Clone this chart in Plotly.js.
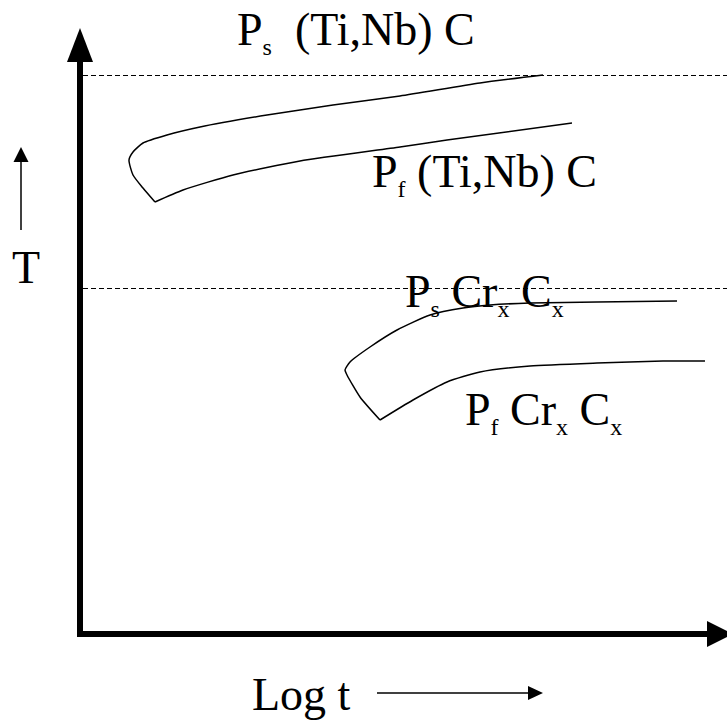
<!DOCTYPE html>
<html>
<head>
<meta charset="utf-8">
<script src="https://cdn.plot.ly/plotly-3.0.1.min.js"></script>
<style>
  html, body { margin: 0; padding: 0; background: #ffffff; }
  #chart { width: 727px; height: 724px; }
</style>
</head>
<body>
<div id="chart"></div>
<script>
// Schematic TTP diagram: x = Log t (arbitrary units), y = T (arbitrary units)

// (Ti,Nb)C precipitation: start curve (right end -> nose -> lower tip)
const tinbStartX = [463, 400, 320, 253, 187, 120, 87, 63, 53, 49, 53, 63, 75];
const tinbStartY = [559, 551, 538, 529, 519, 507, 499, 491, 482, 474, 459, 446, 432];
// (Ti,Nb)C precipitation: finish curve
const tinbFinishX = [75, 103, 153, 220, 320, 367, 492];
const tinbFinishY = [432, 444, 459, 473, 487, 494, 511];

// CrxCx precipitation: start curve (right end -> nose -> lower tip)
const crStartX = [597, 517, 450, 410, 383, 350, 317, 290, 270, 265, 267, 280, 300];
const crStartY = [333, 332, 331, 329, 326, 319, 304, 287, 272, 264, 259, 237, 214];
// CrxCx precipitation: finish curve
const crFinishX = [300, 333, 367, 400, 450, 517, 583, 625];
const crFinishY = [214, 234, 252, 262, 268, 271, 273, 273];

// Dashed temperature levels (solvus of each precipitate)
const levelX = [3, 647];
const tinbLevel = [558.5, 558.5];
const crLevel = [345.5, 345.5];

// Labels
const labelTexts = [
  "P<sub><span style='font-size:24px'>s</span></sub>&nbsp; (Ti,Nb) C",
  "P<sub><span style='font-size:24px'>f</span></sub> (Ti,Nb) C",
  "P<sub><span style='font-size:24px'>s</span></sub> Cr<sub><span style='font-size:24px'>x</span></sub> C<sub><span style='font-size:24px'>x</span></sub>",
  "P<sub><span style='font-size:24px'>f</span></sub> Cr<sub><span style='font-size:24px'>x</span></sub> C<sub><span style='font-size:24px'>x</span></sub>",
  "T",
  "Log t"
];
const labelX = [157, 292, 325, 385, -68, 172];
const labelY = [630, 488, 368, 250, 392, -35];

const curveLine = { color: '#000000', width: 1.5, shape: 'spline', smoothing: 0.6 };
const dashLine = { color: '#000000', width: 1, dash: '5px,3px' };

const traces = [
  { x: levelX, y: tinbLevel, mode: 'lines', line: dashLine },
  { x: levelX, y: crLevel, mode: 'lines', line: dashLine },
  { x: tinbStartX, y: tinbStartY, mode: 'lines', line: curveLine },
  { x: tinbFinishX, y: tinbFinishY, mode: 'lines', line: curveLine },
  { x: crStartX, y: crStartY, mode: 'lines', line: curveLine },
  { x: crFinishX, y: crFinishY, mode: 'lines', line: curveLine }
];

const serif = '"Times New Roman", "Liberation Serif", "DejaVu Serif", serif';
const font = { family: serif, size: 46, color: '#000000' };

const annotations = labelTexts.map((t, i) => ({
  x: labelX[i], y: labelY[i], xref: 'x', yref: 'y',
  text: t, showarrow: false, xanchor: 'left', yanchor: 'top',
  borderpad: 0, borderwidth: 0, font: font
}));

const shapes = [
  // vertical (T) axis with arrowhead
  { type: 'line', xref: 'x', yref: 'y', x0: 0, y0: -1, x1: 0, y1: 574, line: { color: '#000', width: 6 } },
  { type: 'path', xref: 'x', yref: 'y', path: 'M -13,572 L 13,572 L 0,606 Z', fillcolor: '#000', line: { color: '#000', width: 0 } },
  // horizontal (Log t) axis with arrowhead
  { type: 'line', xref: 'x', yref: 'y', x0: -3, y0: 0, x1: 629, y1: 0, line: { color: '#000', width: 6 } },
  { type: 'path', xref: 'x', yref: 'y', path: 'M 627,13 L 627,-13 L 653,0 Z', fillcolor: '#000', line: { color: '#000', width: 0 } },
  // small arrow next to T
  { type: 'line', xref: 'x', yref: 'y', x0: -59, y0: 404, x1: -59, y1: 473, line: { color: '#000', width: 1.5 } },
  { type: 'path', xref: 'x', yref: 'y', path: 'M -66.5,472 L -51.5,472 L -59,487 Z', fillcolor: '#000', line: { color: '#000', width: 0 } },
  // small arrow next to Log t
  { type: 'line', xref: 'x', yref: 'y', x0: 297, y0: -59, x1: 449, y1: -59, line: { color: '#000', width: 1.5 } },
  { type: 'path', xref: 'x', yref: 'y', path: 'M 448,-66 L 448,-52 L 463,-59 Z', fillcolor: '#000', line: { color: '#000', width: 0 } }
];

const layout = {
  width: 727, height: 724,
  margin: { l: 0, r: 0, t: 0, b: 0, pad: 0 },
  paper_bgcolor: '#ffffff', plot_bgcolor: '#ffffff',
  font: { family: serif, size: 46, color: '#000000' },
  showlegend: false, hovermode: false,
  xaxis: { range: [-80, 647], visible: false, showgrid: false, zeroline: false, fixedrange: true },
  yaxis: { range: [-90, 634], visible: false, showgrid: false, zeroline: false, fixedrange: true },
  shapes: shapes,
  annotations: annotations
};

Plotly.newPlot('chart', traces, layout, { staticPlot: true, displayModeBar: false });
</script>
</body>
</html>
